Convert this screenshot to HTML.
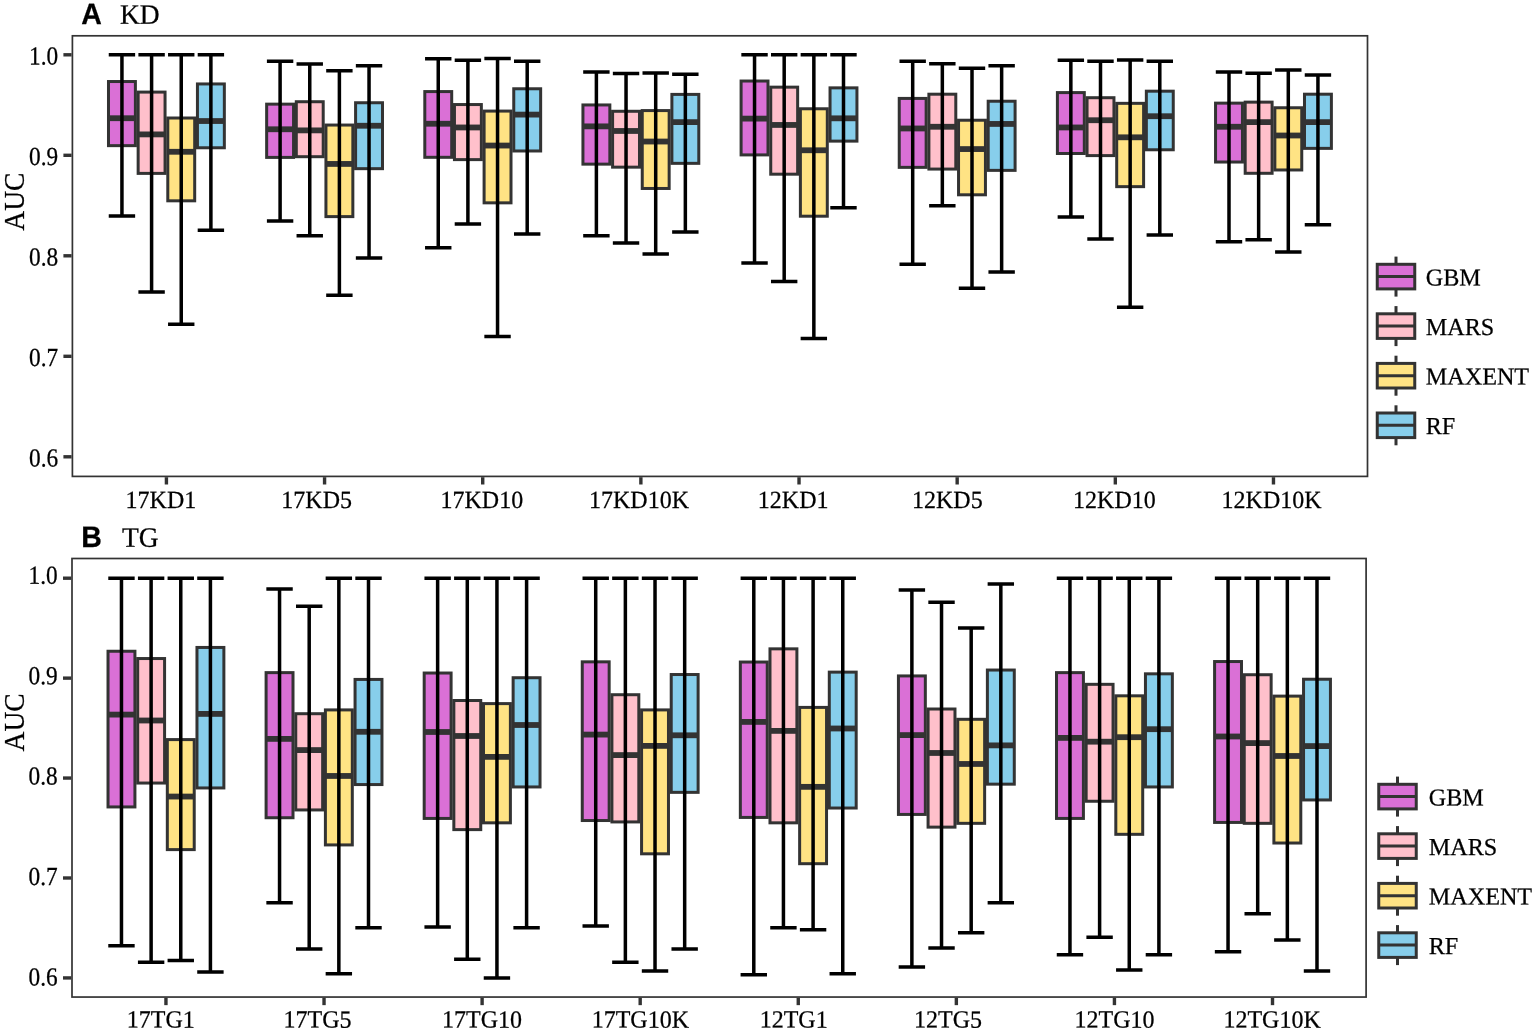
<!DOCTYPE html>
<html><head><meta charset="utf-8"><title>AUC boxplots</title>
<style>
html,body{margin:0;padding:0;background:#fff;overflow:hidden}
svg{display:block}
text{fill:#000;stroke:#000;stroke-width:0.25px}
.t24{font-family:"Liberation Serif",serif;font-size:24px}
.t27{font-family:"Liberation Serif",serif;font-size:27.5px}
.bold{font-family:"Liberation Sans",sans-serif;font-weight:bold;font-size:28.5px}
</style></head><body>
<svg width="1535" height="1033" viewBox="0 0 1535 1033">
<rect width="1535" height="1033" fill="#fff"/>
<rect x="108.49" y="81.53" width="26.9" height="64.12" fill="#DA70D6" stroke="#333333" stroke-width="3.0"/>
<path d="M108.49 118.22H135.39" stroke="#333333" stroke-width="5.8"/>
<path d="M121.94 54.8V215.9M108.74 54.8h26.4M108.74 215.9h26.4" stroke="#000" stroke-width="3.5" fill="none"/>
<rect x="138.15" y="92.09" width="26.9" height="81.3" fill="#FFC0CB" stroke="#333333" stroke-width="3.0"/>
<path d="M138.15 134.4H165.04" stroke="#333333" stroke-width="5.8"/>
<path d="M151.59 54.8V291.88M138.4 54.8h26.4M138.4 291.88h26.4" stroke="#000" stroke-width="3.5" fill="none"/>
<rect x="167.79" y="118.01" width="26.9" height="82.81" fill="#FFE384" stroke="#333333" stroke-width="3.0"/>
<path d="M167.79 151.78H194.69" stroke="#333333" stroke-width="5.8"/>
<path d="M181.24 54.8V324.24M168.04 54.8h26.4M168.04 324.24h26.4" stroke="#000" stroke-width="3.5" fill="none"/>
<rect x="197.44" y="83.95" width="26.9" height="63.82" fill="#87CEEB" stroke="#333333" stroke-width="3.0"/>
<path d="M197.44 121.03H224.34" stroke="#333333" stroke-width="5.8"/>
<path d="M210.89 54.8V230.17M197.69 54.8h26.4M197.69 230.17h26.4" stroke="#000" stroke-width="3.5" fill="none"/>
<rect x="266.65" y="104.15" width="26.9" height="53.26" fill="#DA70D6" stroke="#333333" stroke-width="3.0"/>
<path d="M266.65 129.27H293.55" stroke="#333333" stroke-width="5.8"/>
<path d="M280.1 61.13V221.03M266.9 61.13h26.4M266.9 221.03h26.4" stroke="#000" stroke-width="3.5" fill="none"/>
<rect x="296.3" y="101.73" width="26.9" height="54.97" fill="#FFC0CB" stroke="#333333" stroke-width="3.0"/>
<path d="M296.3 130.38H323.19" stroke="#333333" stroke-width="5.8"/>
<path d="M309.75 63.95V235.8M296.55 63.95h26.4M296.55 235.8h26.4" stroke="#000" stroke-width="3.5" fill="none"/>
<rect x="325.94" y="125.05" width="26.9" height="91.56" fill="#FFE384" stroke="#333333" stroke-width="3.0"/>
<path d="M325.94 163.94H352.84" stroke="#333333" stroke-width="5.8"/>
<path d="M339.39 70.78V295.2M326.19 70.78h26.4M326.19 295.2h26.4" stroke="#000" stroke-width="3.5" fill="none"/>
<rect x="355.59" y="102.74" width="26.9" height="65.93" fill="#87CEEB" stroke="#333333" stroke-width="3.0"/>
<path d="M355.59 125.75H382.49" stroke="#333333" stroke-width="5.8"/>
<path d="M369.04 65.86V258.01M355.84 65.86h26.4M355.84 258.01h26.4" stroke="#000" stroke-width="3.5" fill="none"/>
<rect x="424.8" y="91.58" width="26.9" height="65.73" fill="#DA70D6" stroke="#333333" stroke-width="3.0"/>
<path d="M424.8 123.74H451.69" stroke="#333333" stroke-width="5.8"/>
<path d="M438.25 58.82V247.86M425.05 58.82h26.4M425.05 247.86h26.4" stroke="#000" stroke-width="3.5" fill="none"/>
<rect x="454.45" y="104.55" width="26.9" height="55.07" fill="#FFC0CB" stroke="#333333" stroke-width="3.0"/>
<path d="M454.45 127.46H481.35" stroke="#333333" stroke-width="5.8"/>
<path d="M467.9 60.23V223.94M454.7 60.23h26.4M454.7 223.94h26.4" stroke="#000" stroke-width="3.5" fill="none"/>
<rect x="484.1" y="111.08" width="26.9" height="91.76" fill="#FFE384" stroke="#333333" stroke-width="3.0"/>
<path d="M484.1 145.55H511" stroke="#333333" stroke-width="5.8"/>
<path d="M497.55 58.52V336.4M484.35 58.52h26.4M484.35 336.4h26.4" stroke="#000" stroke-width="3.5" fill="none"/>
<rect x="513.75" y="88.77" width="26.9" height="62.21" fill="#87CEEB" stroke="#333333" stroke-width="3.0"/>
<path d="M513.75 114.6H540.65" stroke="#333333" stroke-width="5.8"/>
<path d="M527.2 61.33V233.99M514 61.33h26.4M514 233.99h26.4" stroke="#000" stroke-width="3.5" fill="none"/>
<rect x="582.94" y="104.95" width="26.9" height="59.19" fill="#DA70D6" stroke="#333333" stroke-width="3.0"/>
<path d="M582.94 126.36H609.85" stroke="#333333" stroke-width="5.8"/>
<path d="M596.39 71.89V235.7M583.19 71.89h26.4M583.19 235.7h26.4" stroke="#000" stroke-width="3.5" fill="none"/>
<rect x="612.59" y="111.28" width="26.9" height="55.88" fill="#FFC0CB" stroke="#333333" stroke-width="3.0"/>
<path d="M612.59 130.98H639.5" stroke="#333333" stroke-width="5.8"/>
<path d="M626.04 73.59V242.94M612.84 73.59h26.4M612.84 242.94h26.4" stroke="#000" stroke-width="3.5" fill="none"/>
<rect x="642.25" y="110.58" width="26.9" height="77.89" fill="#FFE384" stroke="#333333" stroke-width="3.0"/>
<path d="M642.25 141.53H669.15" stroke="#333333" stroke-width="5.8"/>
<path d="M655.7 73.09V253.89M642.5 73.09h26.4M642.5 253.89h26.4" stroke="#000" stroke-width="3.5" fill="none"/>
<rect x="671.89" y="94.4" width="26.9" height="68.94" fill="#87CEEB" stroke="#333333" stroke-width="3.0"/>
<path d="M671.89 122.13H698.8" stroke="#333333" stroke-width="5.8"/>
<path d="M685.35 74.3V231.88M672.14 74.3h26.4M672.14 231.88h26.4" stroke="#000" stroke-width="3.5" fill="none"/>
<rect x="741.09" y="81.03" width="26.9" height="73.87" fill="#DA70D6" stroke="#333333" stroke-width="3.0"/>
<path d="M741.09 118.62H768" stroke="#333333" stroke-width="5.8"/>
<path d="M754.54 54.8V263.04M741.34 54.8h26.4M741.34 263.04h26.4" stroke="#000" stroke-width="3.5" fill="none"/>
<rect x="770.74" y="87.16" width="26.9" height="87.03" fill="#FFC0CB" stroke="#333333" stroke-width="3.0"/>
<path d="M770.74 124.95H797.64" stroke="#333333" stroke-width="5.8"/>
<path d="M784.19 54.8V281.43M770.99 54.8h26.4M770.99 281.43h26.4" stroke="#000" stroke-width="3.5" fill="none"/>
<rect x="800.39" y="108.77" width="26.9" height="107.43" fill="#FFE384" stroke="#333333" stroke-width="3.0"/>
<path d="M800.39 150.27H827.3" stroke="#333333" stroke-width="5.8"/>
<path d="M813.85 54.8V338.51M800.64 54.8h26.4M800.64 338.51h26.4" stroke="#000" stroke-width="3.5" fill="none"/>
<rect x="830.04" y="87.86" width="26.9" height="53.26" fill="#87CEEB" stroke="#333333" stroke-width="3.0"/>
<path d="M830.04 118.32H856.95" stroke="#333333" stroke-width="5.8"/>
<path d="M843.5 54.8V207.76M830.29 54.8h26.4M830.29 207.76h26.4" stroke="#000" stroke-width="3.5" fill="none"/>
<rect x="899.24" y="98.42" width="26.9" height="68.94" fill="#DA70D6" stroke="#333333" stroke-width="3.0"/>
<path d="M899.24 128.47H926.14" stroke="#333333" stroke-width="5.8"/>
<path d="M912.69 61.13V264.14M899.49 61.13h26.4M899.49 264.14h26.4" stroke="#000" stroke-width="3.5" fill="none"/>
<rect x="928.89" y="94.2" width="26.9" height="74.87" fill="#FFC0CB" stroke="#333333" stroke-width="3.0"/>
<path d="M928.89 126.76H955.79" stroke="#333333" stroke-width="5.8"/>
<path d="M942.34 63.74V205.85M929.14 63.74h26.4M929.14 205.85h26.4" stroke="#000" stroke-width="3.5" fill="none"/>
<rect x="958.54" y="120.23" width="26.9" height="74.57" fill="#FFE384" stroke="#333333" stroke-width="3.0"/>
<path d="M958.54 149.07H985.45" stroke="#333333" stroke-width="5.8"/>
<path d="M972 68.17V288.16M958.79 68.17h26.4M958.79 288.16h26.4" stroke="#000" stroke-width="3.5" fill="none"/>
<rect x="988.19" y="101.23" width="26.9" height="69.14" fill="#87CEEB" stroke="#333333" stroke-width="3.0"/>
<path d="M988.19 123.94H1015.1" stroke="#333333" stroke-width="5.8"/>
<path d="M1001.64 65.86V272.08M988.44 65.86h26.4M988.44 272.08h26.4" stroke="#000" stroke-width="3.5" fill="none"/>
<rect x="1057.4" y="92.59" width="26.9" height="60.9" fill="#DA70D6" stroke="#333333" stroke-width="3.0"/>
<path d="M1057.4 127.46H1084.3" stroke="#333333" stroke-width="5.8"/>
<path d="M1070.85 60.23V216.91M1057.65 60.23h26.4M1057.65 216.91h26.4" stroke="#000" stroke-width="3.5" fill="none"/>
<rect x="1087.05" y="97.71" width="26.9" height="57.89" fill="#FFC0CB" stroke="#333333" stroke-width="3.0"/>
<path d="M1087.05 120.23H1113.95" stroke="#333333" stroke-width="5.8"/>
<path d="M1100.5 61.13V238.92M1087.3 61.13h26.4M1087.3 238.92h26.4" stroke="#000" stroke-width="3.5" fill="none"/>
<rect x="1116.7" y="103.34" width="26.9" height="83.31" fill="#FFE384" stroke="#333333" stroke-width="3.0"/>
<path d="M1116.7 137.31H1143.6" stroke="#333333" stroke-width="5.8"/>
<path d="M1130.15 59.93V307.26M1116.95 59.93h26.4M1116.95 307.26h26.4" stroke="#000" stroke-width="3.5" fill="none"/>
<rect x="1146.35" y="91.18" width="26.9" height="58.59" fill="#87CEEB" stroke="#333333" stroke-width="3.0"/>
<path d="M1146.35 116.21H1173.25" stroke="#333333" stroke-width="5.8"/>
<path d="M1159.8 61.13V234.9M1146.6 61.13h26.4M1146.6 234.9h26.4" stroke="#000" stroke-width="3.5" fill="none"/>
<rect x="1215.55" y="103.14" width="26.9" height="58.89" fill="#DA70D6" stroke="#333333" stroke-width="3.0"/>
<path d="M1215.55 126.76H1242.45" stroke="#333333" stroke-width="5.8"/>
<path d="M1229 71.89V241.73M1215.8 71.89h26.4M1215.8 241.73h26.4" stroke="#000" stroke-width="3.5" fill="none"/>
<rect x="1245.19" y="102.14" width="26.9" height="71.15" fill="#FFC0CB" stroke="#333333" stroke-width="3.0"/>
<path d="M1245.19 122.13H1272.1" stroke="#333333" stroke-width="5.8"/>
<path d="M1258.64 73.29V239.82M1245.44 73.29h26.4M1245.44 239.82h26.4" stroke="#000" stroke-width="3.5" fill="none"/>
<rect x="1274.85" y="107.76" width="26.9" height="62.21" fill="#FFE384" stroke="#333333" stroke-width="3.0"/>
<path d="M1274.85 135.5H1301.75" stroke="#333333" stroke-width="5.8"/>
<path d="M1288.3 70.08V252.08M1275.1 70.08h26.4M1275.1 252.08h26.4" stroke="#000" stroke-width="3.5" fill="none"/>
<rect x="1304.49" y="94.2" width="26.9" height="54.17" fill="#87CEEB" stroke="#333333" stroke-width="3.0"/>
<path d="M1304.49 122.13H1331.39" stroke="#333333" stroke-width="5.8"/>
<path d="M1317.94 75V224.85M1304.74 75h26.4M1304.74 224.85h26.4" stroke="#000" stroke-width="3.5" fill="none"/>
<rect x="72.4" y="35.8" width="1295.1" height="440.6" fill="none" stroke="#333333" stroke-width="1.7"/>
<path d="M63.4 54.8H71.6" stroke="#333333" stroke-width="3.4"/>
<text transform="translate(58.1 64.4) rotate(0.03) scale(0.97 1.085)" text-anchor="end" class="t24">1.0</text>
<path d="M63.4 155.3H71.6" stroke="#333333" stroke-width="3.4"/>
<text transform="translate(58.1 164.9) rotate(0.03) scale(0.97 1.085)" text-anchor="end" class="t24">0.9</text>
<path d="M63.4 255.8H71.6" stroke="#333333" stroke-width="3.4"/>
<text transform="translate(58.1 265.4) rotate(0.03) scale(0.97 1.085)" text-anchor="end" class="t24">0.8</text>
<path d="M63.4 356.3H71.6" stroke="#333333" stroke-width="3.4"/>
<text transform="translate(58.1 365.9) rotate(0.03) scale(0.97 1.085)" text-anchor="end" class="t24">0.7</text>
<path d="M63.4 456.8H71.6" stroke="#333333" stroke-width="3.4"/>
<text transform="translate(58.1 466.4) rotate(0.03) scale(0.97 1.085)" text-anchor="end" class="t24">0.6</text>
<path d="M166.42 477.2V484.5" stroke="#333333" stroke-width="3.4"/>
<text transform="translate(125.6 508) rotate(0.03) scale(1 1.03)" class="t24">17KD1</text>
<path d="M324.57 477.2V484.5" stroke="#333333" stroke-width="3.4"/>
<text transform="translate(281.3 508) rotate(0.03) scale(1 1.03)" class="t24">17KD5</text>
<path d="M482.72 477.2V484.5" stroke="#333333" stroke-width="3.4"/>
<text transform="translate(440.5 508) rotate(0.03) scale(1 1.03)" class="t24">17KD10</text>
<path d="M640.87 477.2V484.5" stroke="#333333" stroke-width="3.4"/>
<text transform="translate(589 508) rotate(0.03) scale(1 1.03)" class="t24">17KD10K</text>
<path d="M799.02 477.2V484.5" stroke="#333333" stroke-width="3.4"/>
<text transform="translate(757.8 508) rotate(0.03) scale(1 1.03)" class="t24">12KD1</text>
<path d="M957.17 477.2V484.5" stroke="#333333" stroke-width="3.4"/>
<text transform="translate(912 508) rotate(0.03) scale(1 1.03)" class="t24">12KD5</text>
<path d="M1115.32 477.2V484.5" stroke="#333333" stroke-width="3.4"/>
<text transform="translate(1073.1 508) rotate(0.03) scale(1 1.03)" class="t24">12KD10</text>
<path d="M1273.47 477.2V484.5" stroke="#333333" stroke-width="3.4"/>
<text transform="translate(1221.6 508) rotate(0.03) scale(1 1.03)" class="t24">12KD10K</text>
<text transform="translate(81.3 23.9) rotate(0.03) scale(1 1.04)" class="bold">A</text>
<text transform="translate(120 23.7) rotate(0.03) scale(1 1.02)" class="t27">KD</text>
<text transform="translate(24.2 201.7) rotate(-90) scale(1 1.06)" text-anchor="middle" class="t27">AUC</text>
<path d="M1396 256.6V296.6" stroke="#333333" stroke-width="3.0"/>
<rect x="1377.25" y="264.3" width="37.5" height="24.6" fill="#DA70D6" stroke="#333333" stroke-width="3.0"/>
<path d="M1377.25 276.6h37.5" stroke="#333333" stroke-width="3.0"/>
<text transform="translate(1425.7 285.4) rotate(0.03) scale(1.008 1.015)" class="t24">GBM</text>
<path d="M1396 306.1V346.1" stroke="#333333" stroke-width="3.0"/>
<rect x="1377.25" y="313.8" width="37.5" height="24.6" fill="#FFC0CB" stroke="#333333" stroke-width="3.0"/>
<path d="M1377.25 326.1h37.5" stroke="#333333" stroke-width="3.0"/>
<text transform="translate(1425.7 334.9) rotate(0.03) scale(1.008 1.015)" class="t24">MARS</text>
<path d="M1396 355.7V395.7" stroke="#333333" stroke-width="3.0"/>
<rect x="1377.25" y="363.4" width="37.5" height="24.6" fill="#FFE384" stroke="#333333" stroke-width="3.0"/>
<path d="M1377.25 375.7h37.5" stroke="#333333" stroke-width="3.0"/>
<text transform="translate(1425.7 384.5) rotate(0.03) scale(1.008 1.015)" class="t24">MAXENT</text>
<path d="M1396 405.3V445.3" stroke="#333333" stroke-width="3.0"/>
<rect x="1377.25" y="413" width="37.5" height="24.6" fill="#87CEEB" stroke="#333333" stroke-width="3.0"/>
<path d="M1377.25 425.3h37.5" stroke="#333333" stroke-width="3.0"/>
<text transform="translate(1425.7 434.1) rotate(0.03) scale(1.008 1.015)" class="t24">RF</text>
<rect x="108.02" y="651.25" width="26.9" height="155.69" fill="#DA70D6" stroke="#333333" stroke-width="3.0"/>
<path d="M108.02 714.6H134.92" stroke="#333333" stroke-width="5.8"/>
<path d="M121.47 578.2V945.74M108.27 578.2h26.4M108.27 945.74h26.4" stroke="#000" stroke-width="3.5" fill="none"/>
<rect x="137.68" y="658.54" width="26.9" height="124.51" fill="#FFC0CB" stroke="#333333" stroke-width="3.0"/>
<path d="M137.68 720.5H164.57" stroke="#333333" stroke-width="5.8"/>
<path d="M151.12 578.2V962.23M137.93 578.2h26.4M137.93 962.23h26.4" stroke="#000" stroke-width="3.5" fill="none"/>
<rect x="167.32" y="739.59" width="26.9" height="110.02" fill="#FFE384" stroke="#333333" stroke-width="3.0"/>
<path d="M167.32 796.55H194.22" stroke="#333333" stroke-width="5.8"/>
<path d="M180.77 578.2V960.53M167.57 578.2h26.4M167.57 960.53h26.4" stroke="#000" stroke-width="3.5" fill="none"/>
<rect x="196.97" y="647.45" width="26.9" height="140.5" fill="#87CEEB" stroke="#333333" stroke-width="3.0"/>
<path d="M196.97 713.9H223.87" stroke="#333333" stroke-width="5.8"/>
<path d="M210.42 578.2V972.02M197.22 578.2h26.4M197.22 972.02h26.4" stroke="#000" stroke-width="3.5" fill="none"/>
<rect x="266.1" y="672.63" width="26.9" height="145.1" fill="#DA70D6" stroke="#333333" stroke-width="3.0"/>
<path d="M266.1 738.89H293" stroke="#333333" stroke-width="5.8"/>
<path d="M279.55 588.99V902.87M266.35 588.99h26.4M266.35 902.87h26.4" stroke="#000" stroke-width="3.5" fill="none"/>
<rect x="295.75" y="713.71" width="26.9" height="96.23" fill="#FFC0CB" stroke="#333333" stroke-width="3.0"/>
<path d="M295.75 750.08H322.65" stroke="#333333" stroke-width="5.8"/>
<path d="M309.2 606.18V949.04M296 606.18h26.4M296 949.04h26.4" stroke="#000" stroke-width="3.5" fill="none"/>
<rect x="325.4" y="709.91" width="26.9" height="135.01" fill="#FFE384" stroke="#333333" stroke-width="3.0"/>
<path d="M325.4 775.96H352.3" stroke="#333333" stroke-width="5.8"/>
<path d="M338.85 578.2V973.72M325.65 578.2h26.4M325.65 973.72h26.4" stroke="#000" stroke-width="3.5" fill="none"/>
<rect x="355.06" y="679.43" width="26.9" height="105.13" fill="#87CEEB" stroke="#333333" stroke-width="3.0"/>
<path d="M355.06 731.79H381.95" stroke="#333333" stroke-width="5.8"/>
<path d="M368.5 578.2V927.76M355.31 578.2h26.4M355.31 927.76h26.4" stroke="#000" stroke-width="3.5" fill="none"/>
<rect x="424.19" y="673.03" width="26.9" height="145.4" fill="#DA70D6" stroke="#333333" stroke-width="3.0"/>
<path d="M424.19 731.99H451.08" stroke="#333333" stroke-width="5.8"/>
<path d="M437.63 578.2V927.06M424.44 578.2h26.4M424.44 927.06h26.4" stroke="#000" stroke-width="3.5" fill="none"/>
<rect x="453.84" y="700.51" width="26.9" height="129.11" fill="#FFC0CB" stroke="#333333" stroke-width="3.0"/>
<path d="M453.84 735.99H480.74" stroke="#333333" stroke-width="5.8"/>
<path d="M467.29 578.2V959.13M454.09 578.2h26.4M454.09 959.13h26.4" stroke="#000" stroke-width="3.5" fill="none"/>
<rect x="483.49" y="703.61" width="26.9" height="119.22" fill="#FFE384" stroke="#333333" stroke-width="3.0"/>
<path d="M483.49 756.87H510.38" stroke="#333333" stroke-width="5.8"/>
<path d="M496.94 578.2V977.92M483.74 578.2h26.4M483.74 977.92h26.4" stroke="#000" stroke-width="3.5" fill="none"/>
<rect x="513.13" y="677.73" width="26.9" height="109.22" fill="#87CEEB" stroke="#333333" stroke-width="3.0"/>
<path d="M513.13 725H540.04" stroke="#333333" stroke-width="5.8"/>
<path d="M526.59 578.2V927.76M513.38 578.2h26.4M513.38 927.76h26.4" stroke="#000" stroke-width="3.5" fill="none"/>
<rect x="582.26" y="661.84" width="26.9" height="158.69" fill="#DA70D6" stroke="#333333" stroke-width="3.0"/>
<path d="M582.26 734.59H609.17" stroke="#333333" stroke-width="5.8"/>
<path d="M595.72 578.2V926.06M582.51 578.2h26.4M582.51 926.06h26.4" stroke="#000" stroke-width="3.5" fill="none"/>
<rect x="611.91" y="694.72" width="26.9" height="127.21" fill="#FFC0CB" stroke="#333333" stroke-width="3.0"/>
<path d="M611.91 755.08H638.82" stroke="#333333" stroke-width="5.8"/>
<path d="M625.37 578.2V962.23M612.16 578.2h26.4M612.16 962.23h26.4" stroke="#000" stroke-width="3.5" fill="none"/>
<rect x="641.57" y="709.91" width="26.9" height="143.9" fill="#FFE384" stroke="#333333" stroke-width="3.0"/>
<path d="M641.57 745.88H668.47" stroke="#333333" stroke-width="5.8"/>
<path d="M655.02 578.2V970.92M641.82 578.2h26.4M641.82 970.92h26.4" stroke="#000" stroke-width="3.5" fill="none"/>
<rect x="671.22" y="674.53" width="26.9" height="117.82" fill="#87CEEB" stroke="#333333" stroke-width="3.0"/>
<path d="M671.22 735.29H698.12" stroke="#333333" stroke-width="5.8"/>
<path d="M684.67 578.2V949.04M671.47 578.2h26.4M671.47 949.04h26.4" stroke="#000" stroke-width="3.5" fill="none"/>
<rect x="740.34" y="662.04" width="26.9" height="155.39" fill="#DA70D6" stroke="#333333" stroke-width="3.0"/>
<path d="M740.34 721.9H767.25" stroke="#333333" stroke-width="5.8"/>
<path d="M753.79 578.2V974.82M740.59 578.2h26.4M740.59 974.82h26.4" stroke="#000" stroke-width="3.5" fill="none"/>
<rect x="769.99" y="648.85" width="26.9" height="173.98" fill="#FFC0CB" stroke="#333333" stroke-width="3.0"/>
<path d="M769.99 730.89H796.89" stroke="#333333" stroke-width="5.8"/>
<path d="M783.44 578.2V927.76M770.24 578.2h26.4M770.24 927.76h26.4" stroke="#000" stroke-width="3.5" fill="none"/>
<rect x="799.64" y="707.41" width="26.9" height="156.29" fill="#FFE384" stroke="#333333" stroke-width="3.0"/>
<path d="M799.64 786.85H826.55" stroke="#333333" stroke-width="5.8"/>
<path d="M813.1 578.2V929.85M799.89 578.2h26.4M799.89 929.85h26.4" stroke="#000" stroke-width="3.5" fill="none"/>
<rect x="829.29" y="672.13" width="26.9" height="135.9" fill="#87CEEB" stroke="#333333" stroke-width="3.0"/>
<path d="M829.29 728.49H856.2" stroke="#333333" stroke-width="5.8"/>
<path d="M842.75 578.2V973.72M829.54 578.2h26.4M829.54 973.72h26.4" stroke="#000" stroke-width="3.5" fill="none"/>
<rect x="898.43" y="675.93" width="26.9" height="138.5" fill="#DA70D6" stroke="#333333" stroke-width="3.0"/>
<path d="M898.43 735.09H925.33" stroke="#333333" stroke-width="5.8"/>
<path d="M911.88 589.99V966.93M898.68 589.99h26.4M898.68 966.93h26.4" stroke="#000" stroke-width="3.5" fill="none"/>
<rect x="928.08" y="709.01" width="26.9" height="118.12" fill="#FFC0CB" stroke="#333333" stroke-width="3.0"/>
<path d="M928.08 752.98H954.98" stroke="#333333" stroke-width="5.8"/>
<path d="M941.53 602.18V947.94M928.33 602.18h26.4M928.33 947.94h26.4" stroke="#000" stroke-width="3.5" fill="none"/>
<rect x="957.73" y="719.3" width="26.9" height="104.03" fill="#FFE384" stroke="#333333" stroke-width="3.0"/>
<path d="M957.73 763.97H984.63" stroke="#333333" stroke-width="5.8"/>
<path d="M971.18 627.97V932.85M957.98 627.97h26.4M957.98 932.85h26.4" stroke="#000" stroke-width="3.5" fill="none"/>
<rect x="987.38" y="670.04" width="26.9" height="114.12" fill="#87CEEB" stroke="#333333" stroke-width="3.0"/>
<path d="M987.38 745.38H1014.28" stroke="#333333" stroke-width="5.8"/>
<path d="M1000.83 584.1V902.87M987.63 584.1h26.4M987.63 902.87h26.4" stroke="#000" stroke-width="3.5" fill="none"/>
<rect x="1056.51" y="672.63" width="26.9" height="145.8" fill="#DA70D6" stroke="#333333" stroke-width="3.0"/>
<path d="M1056.51 737.89H1083.41" stroke="#333333" stroke-width="5.8"/>
<path d="M1069.96 578.2V954.74M1056.76 578.2h26.4M1056.76 954.74h26.4" stroke="#000" stroke-width="3.5" fill="none"/>
<rect x="1086.15" y="684.33" width="26.9" height="116.92" fill="#FFC0CB" stroke="#333333" stroke-width="3.0"/>
<path d="M1086.15 741.69H1113.06" stroke="#333333" stroke-width="5.8"/>
<path d="M1099.61 578.2V937.15M1086.4 578.2h26.4M1086.4 937.15h26.4" stroke="#000" stroke-width="3.5" fill="none"/>
<rect x="1115.81" y="695.82" width="26.9" height="138.5" fill="#FFE384" stroke="#333333" stroke-width="3.0"/>
<path d="M1115.81 737.19H1142.71" stroke="#333333" stroke-width="5.8"/>
<path d="M1129.26 578.2V969.93M1116.06 578.2h26.4M1116.06 969.93h26.4" stroke="#000" stroke-width="3.5" fill="none"/>
<rect x="1145.45" y="673.83" width="26.9" height="113.12" fill="#87CEEB" stroke="#333333" stroke-width="3.0"/>
<path d="M1145.45 729.19H1172.36" stroke="#333333" stroke-width="5.8"/>
<path d="M1158.9 578.2V954.74M1145.7 578.2h26.4M1145.7 954.74h26.4" stroke="#000" stroke-width="3.5" fill="none"/>
<rect x="1214.59" y="661.54" width="26.9" height="160.89" fill="#DA70D6" stroke="#333333" stroke-width="3.0"/>
<path d="M1214.59 736.49H1241.49" stroke="#333333" stroke-width="5.8"/>
<path d="M1228.04 578.2V951.84M1214.84 578.2h26.4M1214.84 951.84h26.4" stroke="#000" stroke-width="3.5" fill="none"/>
<rect x="1244.24" y="674.73" width="26.9" height="148.6" fill="#FFC0CB" stroke="#333333" stroke-width="3.0"/>
<path d="M1244.24 743.08H1271.14" stroke="#333333" stroke-width="5.8"/>
<path d="M1257.69 578.2V913.86M1244.49 578.2h26.4M1244.49 913.86h26.4" stroke="#000" stroke-width="3.5" fill="none"/>
<rect x="1273.89" y="696.12" width="26.9" height="146.9" fill="#FFE384" stroke="#333333" stroke-width="3.0"/>
<path d="M1273.89 755.98H1300.79" stroke="#333333" stroke-width="5.8"/>
<path d="M1287.34 578.2V939.95M1274.14 578.2h26.4M1274.14 939.95h26.4" stroke="#000" stroke-width="3.5" fill="none"/>
<rect x="1303.54" y="679.23" width="26.9" height="120.72" fill="#87CEEB" stroke="#333333" stroke-width="3.0"/>
<path d="M1303.54 746.08H1330.44" stroke="#333333" stroke-width="5.8"/>
<path d="M1316.99 578.2V970.92M1303.79 578.2h26.4M1303.79 970.92h26.4" stroke="#000" stroke-width="3.5" fill="none"/>
<rect x="72" y="558.5" width="1294.1" height="438.55" fill="none" stroke="#333333" stroke-width="1.7"/>
<path d="M63 578.2H71.2" stroke="#333333" stroke-width="3.4"/>
<text transform="translate(57.7 583.7) rotate(0.03) scale(0.97 1.085)" text-anchor="end" class="t24">1.0</text>
<path d="M63 678.13H71.2" stroke="#333333" stroke-width="3.4"/>
<text transform="translate(57.7 684.2) rotate(0.03) scale(0.97 1.085)" text-anchor="end" class="t24">0.9</text>
<path d="M63 778.06H71.2" stroke="#333333" stroke-width="3.4"/>
<text transform="translate(57.7 784.6) rotate(0.03) scale(0.97 1.085)" text-anchor="end" class="t24">0.8</text>
<path d="M63 877.99H71.2" stroke="#333333" stroke-width="3.4"/>
<text transform="translate(57.7 885) rotate(0.03) scale(0.97 1.085)" text-anchor="end" class="t24">0.7</text>
<path d="M63 977.92H71.2" stroke="#333333" stroke-width="3.4"/>
<text transform="translate(57.7 985.4) rotate(0.03) scale(0.97 1.085)" text-anchor="end" class="t24">0.6</text>
<path d="M165.95 997.85V1005.15" stroke="#333333" stroke-width="3.4"/>
<text transform="translate(126.8 1027.6) rotate(0.03) scale(1 1.03)" class="t24">17TG1</text>
<path d="M324.03 997.85V1005.15" stroke="#333333" stroke-width="3.4"/>
<text transform="translate(283.6 1027.6) rotate(0.03) scale(1 1.03)" class="t24">17TG5</text>
<path d="M482.11 997.85V1005.15" stroke="#333333" stroke-width="3.4"/>
<text transform="translate(442 1027.6) rotate(0.03) scale(1 1.03)" class="t24">17TG10</text>
<path d="M640.19 997.85V1005.15" stroke="#333333" stroke-width="3.4"/>
<text transform="translate(591.7 1027.6) rotate(0.03) scale(1 1.03)" class="t24">17TG10K</text>
<path d="M798.27 997.85V1005.15" stroke="#333333" stroke-width="3.4"/>
<text transform="translate(759.7 1027.6) rotate(0.03) scale(1 1.03)" class="t24">12TG1</text>
<path d="M956.35 997.85V1005.15" stroke="#333333" stroke-width="3.4"/>
<text transform="translate(914 1027.6) rotate(0.03) scale(1 1.03)" class="t24">12TG5</text>
<path d="M1114.43 997.85V1005.15" stroke="#333333" stroke-width="3.4"/>
<text transform="translate(1074.5 1027.6) rotate(0.03) scale(1 1.03)" class="t24">12TG10</text>
<path d="M1272.51 997.85V1005.15" stroke="#333333" stroke-width="3.4"/>
<text transform="translate(1223.4 1027.6) rotate(0.03) scale(1 1.03)" class="t24">12TG10K</text>
<text transform="translate(81.3 547) rotate(0.03) scale(1 1.04)" class="bold">B</text>
<text transform="translate(122 546.8) rotate(0.03) scale(1 1.02)" class="t27">TG</text>
<text transform="translate(24.2 722.4) rotate(-90) scale(1 1.06)" text-anchor="middle" class="t27">AUC</text>
<path d="M1397.5 776.6V816.6" stroke="#333333" stroke-width="3.0"/>
<rect x="1378.75" y="784.3" width="37.5" height="24.6" fill="#DA70D6" stroke="#333333" stroke-width="3.0"/>
<path d="M1378.75 796.6h37.5" stroke="#333333" stroke-width="3.0"/>
<text transform="translate(1428.7 805.4) rotate(0.03) scale(1.008 1.015)" class="t24">GBM</text>
<path d="M1397.5 826.1V866.1" stroke="#333333" stroke-width="3.0"/>
<rect x="1378.75" y="833.8" width="37.5" height="24.6" fill="#FFC0CB" stroke="#333333" stroke-width="3.0"/>
<path d="M1378.75 846.1h37.5" stroke="#333333" stroke-width="3.0"/>
<text transform="translate(1428.7 854.9) rotate(0.03) scale(1.008 1.015)" class="t24">MARS</text>
<path d="M1397.5 875.7V915.7" stroke="#333333" stroke-width="3.0"/>
<rect x="1378.75" y="883.4" width="37.5" height="24.6" fill="#FFE384" stroke="#333333" stroke-width="3.0"/>
<path d="M1378.75 895.7h37.5" stroke="#333333" stroke-width="3.0"/>
<text transform="translate(1428.7 904.5) rotate(0.03) scale(1.008 1.015)" class="t24">MAXENT</text>
<path d="M1397.5 925.1V965.1" stroke="#333333" stroke-width="3.0"/>
<rect x="1378.75" y="932.8" width="37.5" height="24.6" fill="#87CEEB" stroke="#333333" stroke-width="3.0"/>
<path d="M1378.75 945.1h37.5" stroke="#333333" stroke-width="3.0"/>
<text transform="translate(1428.7 953.9) rotate(0.03) scale(1.008 1.015)" class="t24">RF</text>
</svg>
</body></html>
